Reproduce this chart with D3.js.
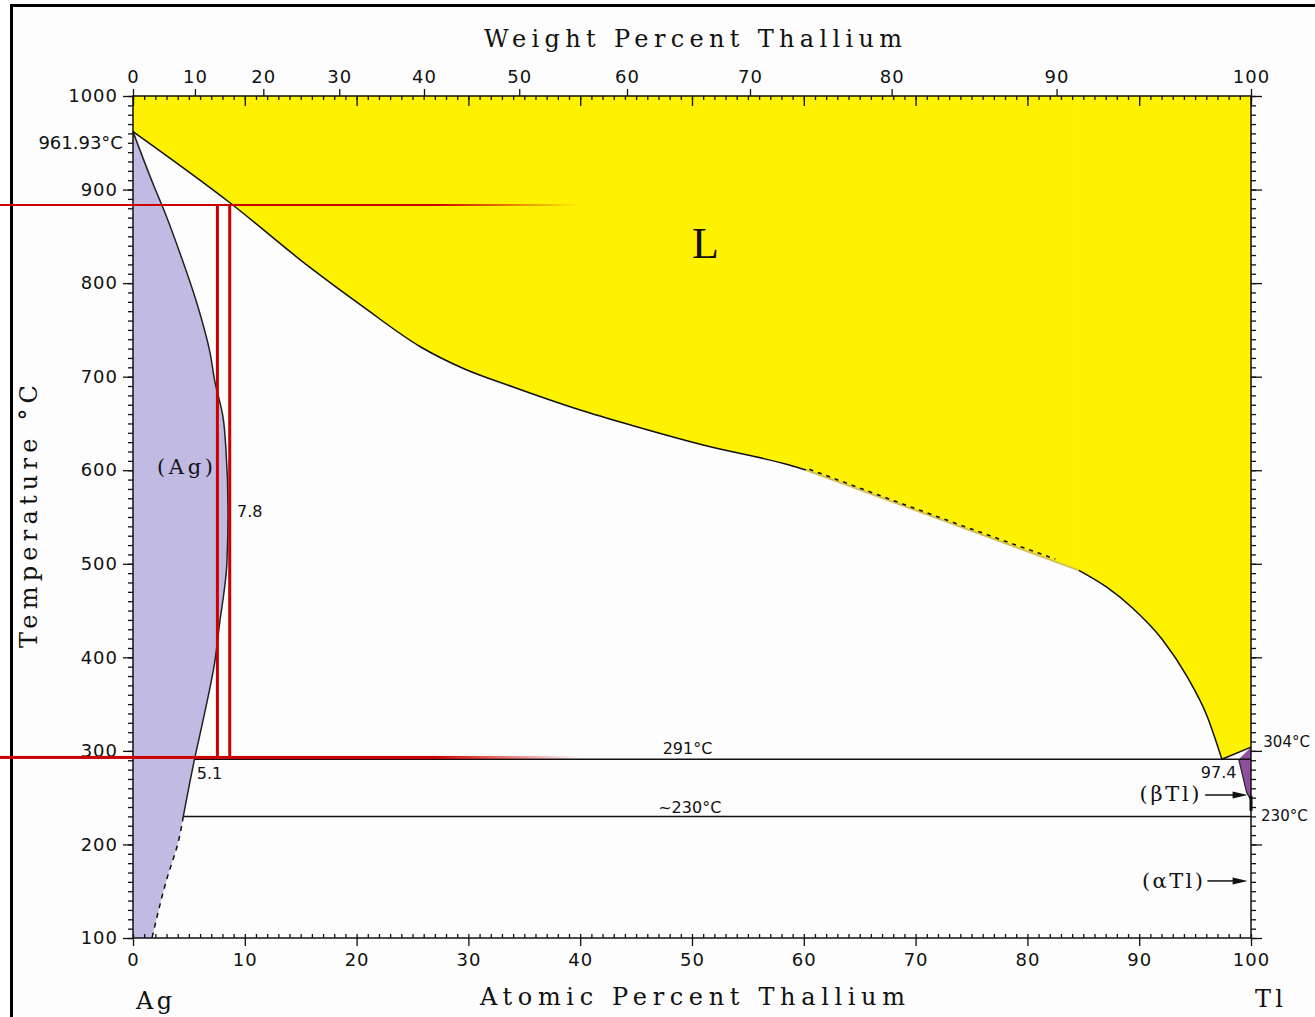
<!DOCTYPE html>
<html><head><meta charset="utf-8">
<script src="https://cdn.jsdelivr.net/npm/d3@7"></script>
<style>html,body{margin:0;padding:0;background:#fff;overflow:hidden}svg{display:block}</style>
</head><body>
<svg id="chart" width="1315" height="1017"></svg>
<script>
// ---------- data ----------
const atomicTicks = [0,10,20,30,40,50,60,70,80,90,100];
const weightTicks = [0,10,20,30,40,50,60,70,80,90,100];
const tempTicks = [100,200,300,400,500,600,700,800,900,1000];
const massAg = 107.87, massTl = 204.38;

// liquidus (at.% Tl, °C)
const liquidusLeft = [[0,961.93],[8.7,885.6],[15.8,817],[20.6,774.5],[25.7,732],[29.5,709],[34.0,689],[40.0,664.4],[44.5,648.4],[51.0,627],[58.7,605.6],[60.2,600.3]];
const liquidusGap = [[60.2,600.3],[84.6,493]];
const liquidusRight = [[84.6,493],[87.1,475],[89.4,452.8],[92.1,418.6],[94.3,379],[96.1,336.3],[97.4,291]];
const peritectic = [[97.4,291],[100,304]];
const liquidusDashed = [[60.5,601],[71,554.5],[82.5,505]];
// (Ag) solidus / solvus
const agSolvus = [[0,961.93],[2.0,900],[2.7,880],[4.2,832],[5.7,779],[6.9,725],[7.3,696],[8.05,657],[8.3,625],[8.5,557],[8.4,501],[7.7,432],[7.3,394],[6.4,340],[5.5,291],[4.5,230]];
const agSolvusDashed = [[4.5,230],[4.1,205],[3.0,162],[1.7,100]];
// (βTl) region
const betaTl = [[98.9,291],[100,304],[100,247],[99.6,256]];
// invariant lines
const eutectic = [[5.5,291],[100,291]];
const eutectoid = [[4.5,230],[100,230]];
// red annotation lines
const redTemps = [883.5,293];
const redComps = [7.55,8.65];
const redSpan = [-11.9,40];

// ---------- scales ----------
const svg = d3.select("#chart");
const x = d3.scaleLinear().domain([0,100]).range([133,1251]);
const y = d3.scaleLinear().domain([100,1000]).range([938,96]);
const wtToAt = w => { const a=w/massTl, b=(100-w)/massAg; return 100*a/(a+b); };

svg.append("rect").attr("width",1315).attr("height",1017).attr("fill","#fff");
svg.append("rect").attr("x",11.5).attr("y",5.5).attr("width",1400).attr("height",1100)
   .attr("fill","#fdfdfd").attr("stroke","#000").attr("stroke-width",3);

// ---------- fills ----------
const yellow = "#fff200";
const areaX = (curve) => d3.area().x(d=>x(d[0])).y0(y(1000)).y1(d=>y(d[1])).curve(curve);
[[liquidusLeft,d3.curveMonotoneX],[liquidusGap,d3.curveLinear],[liquidusRight,d3.curveMonotoneX],[peritectic,d3.curveLinear]]
  .forEach(([pts,c]) => svg.append("path").datum(pts).attr("d",areaX(c)).attr("fill",yellow).attr("stroke",yellow).attr("stroke-width",0.8));
const agFill = agSolvus.concat(agSolvusDashed.slice(1));
svg.append("path").datum(agFill)
  .attr("d", d3.area().y(d=>y(d[1])).x0(x(0)).x1(d=>x(d[0])).curve(d3.curveMonotoneY))
  .attr("fill","#c1bbe3");
svg.append("path").datum(betaTl)
  .attr("d", d3.line().x(d=>x(d[0])).y(d=>y(d[1])).curve(d3.curveLinearClosed))
  .attr("fill","#8e4f9e");

// ---------- lines ----------
const lineX = d3.line().x(d=>x(d[0])).y(d=>y(d[1])).curve(d3.curveMonotoneX);
const lineY = d3.line().x(d=>x(d[0])).y(d=>y(d[1])).curve(d3.curveMonotoneY);
const lin = d3.line().x(d=>x(d[0])).y(d=>y(d[1]));
svg.append("path").datum(liquidusLeft).attr("d",lineX).attr("fill","none").attr("stroke","#111").attr("stroke-width",1.5);
svg.append("path").datum(liquidusGap).attr("d",lin).attr("fill","none").attr("stroke","#d4bf55").attr("stroke-width",2);
svg.append("path").datum(liquidusRight).attr("d",lineX).attr("fill","none").attr("stroke","#111").attr("stroke-width",1.5);
svg.append("path").datum(peritectic).attr("d",lin).attr("fill","none").attr("stroke","#111").attr("stroke-width",1.5);
svg.append("path").datum(liquidusDashed).attr("d",lineX).attr("fill","none").attr("stroke","#111").attr("stroke-width",1.6).attr("stroke-dasharray","4,5");
svg.append("path").datum(agSolvus).attr("d",lineY).attr("fill","none").attr("stroke","#222").attr("stroke-width",1.5);
svg.append("path").datum(agSolvusDashed).attr("d",lineY).attr("fill","none").attr("stroke","#111").attr("stroke-width",1.5).attr("stroke-dasharray","5,5");
svg.append("path").datum([betaTl[0],betaTl[3],betaTl[2]]).attr("d",lin).attr("fill","none").attr("stroke","#222").attr("stroke-width",1.2);
svg.append("path").datum(eutectic).attr("d",lin).attr("stroke","#111").attr("stroke-width",1.5);
svg.append("path").datum(eutectoid).attr("d",lin).attr("stroke","#111").attr("stroke-width",1.5);
svg.append("line").attr("x1",x(100)).attr("x2",x(100)).attr("y1",y(252)).attr("y2",y(236)).attr("stroke","#000").attr("stroke-width",3);

// ---------- frame + axes ----------
svg.append("rect").attr("x",x(0)).attr("y",y(1000)).attr("width",x(100)-x(0)).attr("height",y(100)-y(1000))
  .attr("fill","none").attr("stroke","#111").attr("stroke-width",1.5);
const tickFont = g => g.selectAll("text").attr("font-family","DejaVu Sans").attr("font-size",18).attr("letter-spacing",1).attr("fill","#111");
const cleanDomain = g => g.select(".domain").remove();
const fmt = d3.format("d");
// bottom
svg.append("g").attr("transform",`translate(0,${y(100)})`)
  .call(d3.axisBottom(x).tickValues(atomicTicks).tickSize(8).tickPadding(7).tickFormat(fmt)).call(cleanDomain).call(tickFont);
svg.append("g").attr("transform",`translate(0,${y(100)})`)
  .call(d3.axisBottom(x).ticks(100).tickSize(-4).tickFormat("")).call(cleanDomain);
// top
svg.append("g").attr("transform",`translate(0,${y(1000)})`)
  .call(d3.axisTop(x).tickValues(weightTicks.map(wtToAt)).tickSize(7).tickPadding(6).tickFormat((d,i)=>weightTicks[i]))
  .call(cleanDomain).call(tickFont);
svg.append("g").attr("transform",`translate(0,${y(1000)})`)
  .call(d3.axisTop(x).tickValues(atomicTicks).tickSize(-10).tickFormat("")).call(cleanDomain);
svg.append("g").attr("transform",`translate(0,${y(1000)})`)
  .call(d3.axisTop(x).ticks(100).tickSize(-4).tickFormat("")).call(cleanDomain);
// left
svg.append("g").attr("transform",`translate(${x(0)},0)`)
  .call(d3.axisLeft(y).tickValues(tempTicks).tickSize(10).tickPadding(5).tickFormat(fmt)).call(cleanDomain).call(tickFont);
svg.append("g").attr("transform",`translate(${x(0)},0)`)
  .call(d3.axisLeft(y).ticks(90).tickSize(5).tickFormat("")).call(cleanDomain);
// right
svg.append("g").attr("transform",`translate(${x(100)},0)`)
  .call(d3.axisRight(y).tickValues(tempTicks).tickSize(11).tickFormat("")).call(cleanDomain);
svg.append("g").attr("transform",`translate(${x(100)},0)`)
  .call(d3.axisRight(y).ticks(90).tickSize(5).tickFormat("")).call(cleanDomain);
svg.selectAll(".tick line").attr("stroke","#111").attr("stroke-width",1.3);

// ---------- titles ----------
const serif = "DejaVu Serif";
const title = (txt, xx, yy, len, size, tr) => {
  const t = svg.append("text").attr("font-family",serif).attr("font-size",size).attr("fill","#111").attr("textLength",len).text(txt);
  if (tr) t.attr("transform",tr); else t.attr("x",xx).attr("y",yy);
};
title("Weight Percent Thallium", 484, 47, 418, 24);
title("Atomic Percent Thallium", 480, 1005, 425, 24);
title("Temperature °C", 0, 0, 263, 24, "translate(37,648) rotate(-90)");
title("Ag", 136, 1009, 36, 24);
title("Tl", 1255, 1007, 28, 24);

// ---------- annotations ----------
const labels = [
  {t:"L", a:51.2, T:827, anchor:"middle", font:"Liberation Serif", size:44},
  {t:"(Ag)", a:4.65, T:596, anchor:"middle", font:serif, size:21, len:56},
  {t:"7.8", a:9.3, T:550, anchor:"start", font:"DejaVu Sans", size:16},
  {t:"5.1", a:5.7, T:270, anchor:"start", font:"DejaVu Sans", size:16},
  {t:"291°C", a:49.6, T:297, anchor:"middle", font:"DejaVu Sans", size:16},
  {t:"~230°C", a:49.8, T:234, anchor:"middle", font:"DejaVu Sans", size:16},
  {t:"97.4", a:98.7, T:271, anchor:"end", font:"DejaVu Sans", size:16},
  {t:"304°C", a:101.1, T:304, anchor:"start", font:"DejaVu Sans", size:15},
  {t:"230°C", a:100.9, T:225, anchor:"start", font:"DejaVu Sans", size:15},
  {t:"961.93°C", a:-0.9, T:943, anchor:"end", font:"DejaVu Sans", size:18},
  {t:"(βTl)", a:95.4, T:246.5, anchor:"end", font:serif, size:21, len:60},
  {t:"(αTl)", a:95.7, T:153.5, anchor:"end", font:serif, size:21, len:61}
];
labels.forEach(l => {
  const tx = svg.append("text").attr("x",x(l.a)).attr("y",y(l.T)).attr("text-anchor",l.anchor)
    .attr("font-family",l.font).attr("font-size",l.size).attr("fill","#111").text(l.t);
  if (l.len) tx.attr("textLength",l.len);
});
const arrows = [[95.9,99.7,252.9],[96.1,99.7,161]];
arrows.forEach(([a0,a1,T]) => {
  svg.append("line").attr("x1",x(a0)).attr("x2",x(a1)-10).attr("y1",y(T)).attr("y2",y(T)).attr("stroke","#111").attr("stroke-width",1.5);
  svg.append("path").attr("d",`M${x(a1)},${y(T)} L${x(a1)-15},${y(T)-3.5} L${x(a1)-15},${y(T)+3.5}Z`).attr("fill","#111");
});

// ---------- red annotation lines ----------
const defs = svg.append("defs");
const grad = defs.append("linearGradient").attr("id","redfade").attr("gradientUnits","userSpaceOnUse")
  .attr("x1",x(redSpan[0])).attr("x2",x(redSpan[1])).attr("y1",0).attr("y2",0);
grad.append("stop").attr("offset","0.75").attr("stop-color","#cc0000").attr("stop-opacity",1);
grad.append("stop").attr("offset","1").attr("stop-color","#cc0000").attr("stop-opacity",0);
redTemps.forEach((T,i) => {
  svg.append("rect").attr("x",x(redSpan[0])).attr("width",x(redSpan[1])-x(redSpan[0]))
    .attr("y",y(T)-(i?1.5:1)).attr("height",i?3:2).attr("fill","url(#redfade)");
});
redComps.forEach(a => {
  svg.append("line").attr("x1",x(a)).attr("x2",x(a)).attr("y1",y(redTemps[0])).attr("y2",y(redTemps[1]))
    .attr("stroke","#cc0000").attr("stroke-width",3);
});
</script>
</body></html>
